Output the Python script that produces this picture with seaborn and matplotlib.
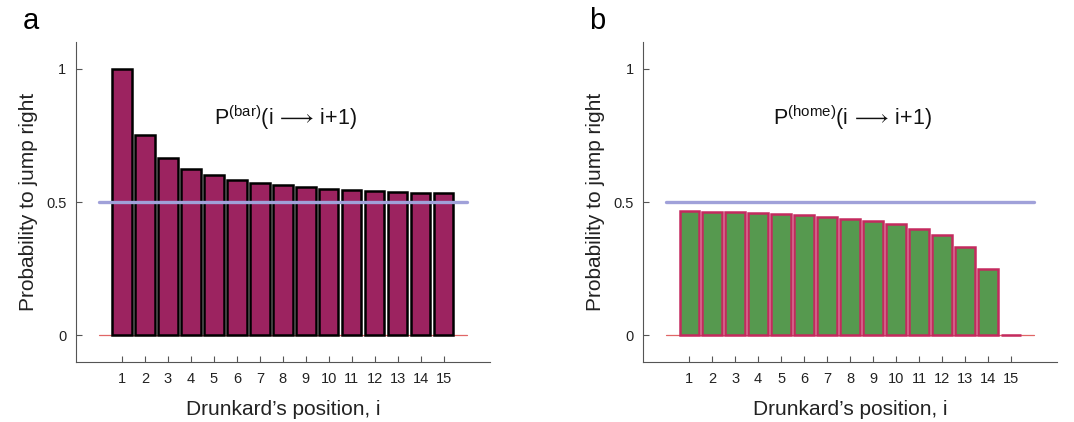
import pandas as pd
import matplotlib.pyplot as plt
import seaborn as sns

# values
positions = list(range(1, 16))
p_bar = [1.0, 0.75, 0.667, 0.625, 0.6, 0.583, 0.571, 0.5625, 0.556, 0.55,
         0.545, 0.542, 0.538, 0.536, 0.533]
p_home = [0.467, 0.464, 0.462, 0.458, 0.455, 0.45, 0.444, 0.4375, 0.429, 0.417,
          0.4, 0.375, 0.333, 0.25, 0.0]
fair = 0.5

sns.set_style("ticks")
plt.rcParams['font.family'] = ['Liberation Sans', 'DejaVu Sans']
plt.rcParams['mathtext.fontset'] = 'custom'
plt.rcParams['mathtext.rm'] = 'Liberation Sans'
plt.rcParams['mathtext.it'] = 'Liberation Sans:italic'
plt.rcParams['mathtext.fallback'] = 'stixsans'

fig = plt.figure(figsize=(10.74, 4.22), dpi=100)
ax_a = fig.add_axes([0.0708, 0.142, 0.385, 0.758])
ax_b = fig.add_axes([0.599, 0.142, 0.385, 0.758])

panels = [
    (ax_a, p_bar, "#9C2360", "black", "bar", "a"),
    (ax_b, p_home, "#56994F", "#C42A5E", "home", "b"),
]

for ax, vals, fill, edge, tag, letter in panels:
    df = pd.DataFrame({'pos': positions, 'p': vals})
    ax.plot([0, 16], [0, 0], color="#E06666", lw=0.9, zorder=1)
    sns.barplot(data=df, x='pos', y='p', native_scale=True, color=fill,
                saturation=1, width=0.85, edgecolor=edge, linewidth=1.8,
                ax=ax, zorder=2)
    ax.plot([0, 16], [fair, fair], color="#A0A1D9", lw=2.4, zorder=3)
    ax.set_xlim(-1, 17)
    ax.set_ylim(-0.1, 1.1)
    ax.set_xticks(positions)
    ax.set_xticklabels([str(p) for p in positions])
    ax.set_yticks([0, 0.5, 1])
    ax.set_yticklabels(['0', '0.5', '1'])
    ax.tick_params(direction='in', length=4, width=0.8, colors="#555555",
                   labelcolor="#222222", labelsize=10.5)
    ax.tick_params(axis='x', pad=7)
    ax.tick_params(axis='y', pad=7)
    for s in ['top', 'right']:
        ax.spines[s].set_visible(False)
    for s in ['left', 'bottom']:
        ax.spines[s].set_color("#555555")
        ax.spines[s].set_linewidth(0.8)
    ax.set_xlabel("Drunkard\u2019s position, i", fontsize=15, color="#222222",
                  labelpad=10)
    ax.set_ylabel("Probability to jump right", fontsize=15, color="#222222",
                  labelpad=6)
    label = r'P$^{\mathrm{(' + tag + r')}}$(i $\!\longrightarrow\!$ i+1)'
    ax.text(8.1, 0.815, label, ha='center', va='center', fontsize=15.5,
            color="#111111")
    ax.text(-0.13, 1.04, letter, transform=ax.transAxes, fontsize=21,
            ha='left', va='baseline', color='black')

fig.savefig("out.png", dpi=100)
